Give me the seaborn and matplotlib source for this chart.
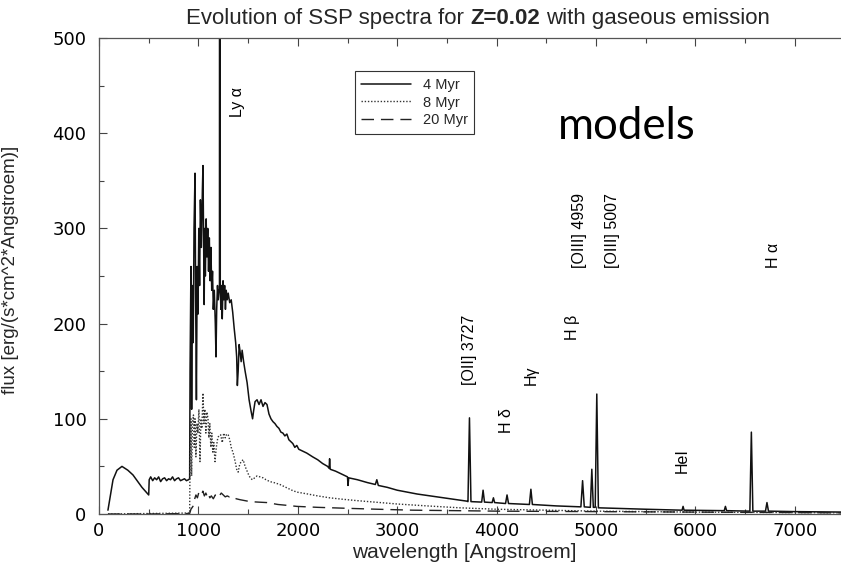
import matplotlib
matplotlib.use("Agg")
import matplotlib.pyplot as plt
from matplotlib.ticker import MultipleLocator
from matplotlib.offsetbox import TextArea, HPacker, AnchoredOffsetbox
import seaborn as sns
import pandas as pd

# ---------------- data ----------------
wl_4myr = [90, 141, 181, 231, 290, 342, 432, 500, 505, 520, 540, 560, 580, 600, 620, 640, 660, 680,
           700, 720, 740, 760, 780, 800, 820, 840, 860, 880, 900, 912,
           916, 925, 932, 940, 948, 956, 966, 972, 980, 988, 996, 1004, 1012, 1020, 1030, 1040,
           1046, 1052, 1058, 1064, 1070, 1078, 1086, 1094, 1102, 1110, 1118, 1126, 1134, 1142,
           1150, 1160, 1170, 1177, 1184, 1192, 1200, 1208, 1212, 1216, 1220, 1226, 1232, 1240,
           1248, 1256, 1264, 1272, 1280, 1290, 1300, 1315, 1330, 1345, 1360, 1375, 1385, 1392,
           1400, 1410, 1420, 1430, 1440, 1455, 1470, 1490, 1510, 1530, 1545, 1555, 1570, 1590,
           1610, 1630, 1650, 1670, 1690, 1710, 1730, 1750, 1770, 1790, 1810, 1830, 1850, 1870,
           1890, 1910, 1930, 1950, 1970, 1990, 2010, 2050, 2090, 2150, 2200, 2250, 2300, 2315,
           2320, 2326, 2380, 2440, 2500, 2505, 2512, 2600, 2700, 2780, 2795, 2810, 2900, 3000,
           3100, 3200, 3300, 3400, 3500, 3600, 3700, 3712, 3727, 3742, 3850, 3864, 3878, 3955,
           3968, 3980, 4090, 4105, 4120, 4330, 4345, 4360, 4600, 4848, 4865, 4882, 4943, 4958,
           4973, 4992, 5008, 5024, 5500, 5866, 5876, 5886, 6290, 6302, 6314, 6548, 6563, 6578,
           6705, 6720, 6735, 7000, 7500]
flux_4myr = [4, 36, 46, 50, 46, 41, 28, 20, 36, 39, 35, 38, 36, 39, 34, 37, 38, 35,
             37, 36, 39, 35, 37, 38, 35, 36, 37, 35, 36, 37,
             150, 260, 110, 240, 180, 300, 358, 230, 120, 260, 210, 300, 240, 330, 280, 340,
             366, 290, 220, 300, 250, 310, 270, 300, 255, 290, 245, 280, 235, 255,
             215, 235, 200, 165, 215, 240, 225, 235, 235, 2500, 240, 215, 240, 205,
             245, 225, 240, 215, 235, 225, 232, 222, 225, 212, 195, 180, 165, 135,
             150, 178, 170, 160, 172, 160, 150, 138, 120, 108, 100, 108, 118, 120,
             115, 120, 113, 117, 115, 105, 100, 97, 95, 92, 90, 86, 85, 82,
             84, 78, 76, 74, 70, 72, 68, 66, 64, 60, 57, 53, 50, 48,
             58, 47, 45, 42, 39, 30, 38, 36, 33, 31, 36, 30, 28, 25,
             23, 21, 19.5, 18, 16.5, 15, 13.5, 13, 101, 13, 12.5, 25, 12.5, 12,
             17, 12, 11, 20, 11, 10, 26, 10, 8.5, 7.5, 35, 7.5, 7, 47,
             7, 7, 126, 6.5, 5, 4, 8, 4, 3.5, 8, 3.5, 3, 86, 3,
             3, 12, 3, 2.5, 2]

wl_8myr = [90, 500, 900, 912, 916, 925, 932, 940, 950, 958, 966, 975, 985, 995, 1005, 1016,
           1025, 1035, 1046, 1055, 1065, 1075, 1085, 1097, 1105, 1115, 1125, 1135, 1145, 1155,
           1167, 1180, 1195, 1210, 1225, 1240, 1255, 1270, 1285, 1300, 1315, 1330, 1350, 1370,
           1385, 1400, 1415, 1430, 1450, 1470, 1490, 1510, 1530, 1545, 1565, 1590, 1620, 1650,
           1680, 1720, 1760, 1820, 1880, 1940, 1990, 2100, 2200, 2320, 2450, 2600, 2830, 3000,
           3300, 3630, 4000, 4500, 5000, 6000, 7000, 7500]
flux_8myr = [0, 0.5, 1, 1, 60, 100, 40, 95, 104, 70, 100, 60, 95, 85, 110, 55,
             100, 90, 127, 95, 110, 85, 107, 100, 80, 95, 70, 85, 65, 75,
             55, 70, 80, 83, 83, 75, 85, 80, 84, 83, 78, 70, 64, 55,
             47, 44, 52, 55, 57, 50, 45, 40, 37, 36, 38, 40, 39, 38,
             36, 34, 33, 31, 28, 25, 23, 21, 19, 17, 15.5, 14, 12, 10.5,
             8.5, 6.5, 5, 4, 3, 2, 1.5, 1.3]

wl_20myr = [90, 500, 900, 912, 925, 945, 960, 975, 990, 1005, 1016, 1030, 1045, 1060, 1075,
            1090, 1100, 1115, 1130, 1150, 1170, 1190, 1210, 1230, 1250, 1270, 1290, 1310, 1330,
            1350, 1380, 1420, 1470, 1520, 1600, 1690, 1800, 1900, 1990, 2200, 2490, 2800, 3160,
            3600, 4000, 5000, 6000, 7000, 7500]
flux_20myr = [0, 0, 0.5, 0.5, 5, 8, 15, 20, 17, 23, 22, 20, 24, 19, 22,
              18, 21, 17, 19, 16, 20, 17, 19, 22, 20, 18, 19, 18, 19,
              18, 16, 15, 14, 13, 12.5, 12, 10, 9, 8, 7, 6, 5, 4,
              3.5, 3, 2.5, 2, 1.5, 1.2]

series_labels = ["4 Myr", "8 Myr", "20 Myr"]

line_labels = ["Ly α", "[OII] 3727", "H δ", "Hγ", "H β", "[OIII] 4959", "[OIII] 5007", "HeI", "H α"]
line_label_x = [1398, 3732, 4095, 4346, 4759, 4839, 5171, 5865, 6781]
line_label_y = [417, 136, 85, 136, 183, 258, 258, 43, 258]

x_ticks = [0, 1000, 2000, 3000, 4000, 5000, 6000, 7000]
y_ticks = [0, 100, 200, 300, 400, 500]

# ---------------- figure ----------------
sns.set_style("ticks")
plt.rcParams["font.family"] = ["DejaVu Sans"]

W, H = 841, 565
fig = plt.figure(figsize=(W / 100, H / 100), dpi=100)
ax = fig.add_axes([99 / W, (H - 514) / H, 745.5 / W, 476 / H])

df4 = pd.DataFrame({"wl": wl_4myr, "flux": flux_4myr})
df8 = pd.DataFrame({"wl": wl_8myr, "flux": flux_8myr})
df20 = pd.DataFrame({"wl": wl_20myr, "flux": flux_20myr})

sns.lineplot(data=df4, x="wl", y="flux", ax=ax, color="#111111", lw=1.1,
             estimator=None, sort=False, label=series_labels[0])
sns.lineplot(data=df8, x="wl", y="flux", ax=ax, color="#333333", lw=1.0,
             linestyle=(0, (1, 1.3)), estimator=None, sort=False, label=series_labels[1])
sns.lineplot(data=df20, x="wl", y="flux", ax=ax, color="#222222", lw=1.0,
             linestyle=(0, (9, 5)), estimator=None, sort=False, label=series_labels[2])

ax.set_xlim(0, 7500)
ax.set_ylim(0, 500)
ax.set_xticks(x_ticks)
ax.set_yticks(y_ticks)
ax.xaxis.set_minor_locator(MultipleLocator(500))
ax.yaxis.set_minor_locator(MultipleLocator(50))
ax.tick_params(which="both", direction="in", top=True, bottom=True, left=True, right=False,
               color="#444444", width=0.8)
ax.tick_params(which="major", length=6)
ax.tick_params(which="minor", length=3.5)
ax.tick_params(axis="x", labelsize=13, pad=6)
ax.tick_params(axis="y", labelsize=13, pad=9)
for lab in ax.get_xticklabels() + ax.get_yticklabels():
    lab.set_color("black")
ax.spines["right"].set_visible(False)
for s in ["left", "bottom", "top"]:
    ax.spines[s].set_color("#555555")
    ax.spines[s].set_linewidth(0.9)

lab_font = ["Liberation Sans", "DejaVu Sans"]
ax.set_xlabel("wavelength [Angstroem]", fontsize=15, family=lab_font)
ax.set_ylabel("flux [erg/(s*cm^2*Angstroem)]", fontsize=13.5, family=lab_font)
ax.xaxis.set_label_coords(0.49, -0.06)
ax.yaxis.set_label_coords(-0.107, 0.513)

# emission line labels
narrow = ["Liberation Sans Narrow", "Liberation Sans", "DejaVu Sans"]
for txt, lx, ly in zip(line_labels, line_label_x, line_label_y):
    ax.text(lx, ly, txt, rotation=90, ha="center", va="bottom", fontsize=11.5,
            family=narrow, color="black")

# legend
leg = ax.legend(loc="upper left", bbox_to_anchor=(0.343, 0.93), borderaxespad=0,
                frameon=True, fancybox=False, framealpha=1, edgecolor="#333333",
                handlelength=3.4, handletextpad=0.8, labelspacing=0.25,
                borderpad=0.45, prop={"family": lab_font, "size": 10.5})
leg.get_frame().set_linewidth(0.8)

# title with bold part
fs_t = 16
parts = [TextArea("Evolution of SSP spectra for", textprops=dict(fontsize=fs_t, family=lab_font)),
         TextArea("Z=0.02", textprops=dict(fontsize=fs_t, family=lab_font, weight="bold")),
         TextArea("with gaseous emission", textprops=dict(fontsize=fs_t, family=lab_font))]
box = HPacker(children=parts, pad=0, sep=0.278 * fs_t, align="baseline")
anch = AnchoredOffsetbox(loc="lower center", child=box, pad=0, borderpad=0, frameon=False,
                         bbox_to_anchor=(478 / W, 1 - 29 / H), bbox_transform=fig.transFigure)
fig.add_artist(anch)

# "models" annotation
fig.text(558 / W, 1 - 139 / H, "models", fontsize=31.5, family=["Lato", "Open Sans", "DejaVu Sans"],
         ha="left", va="baseline", color="black")

fig.savefig("out.png", dpi=100)
